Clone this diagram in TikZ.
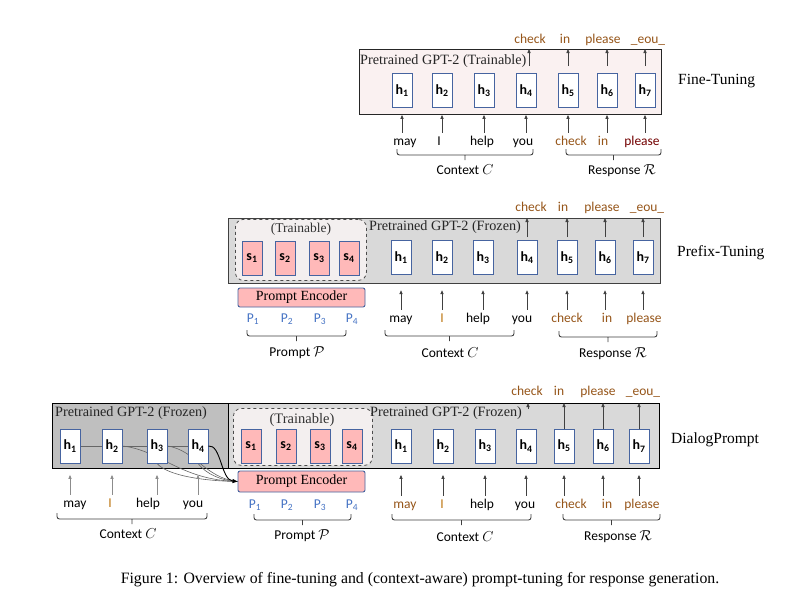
\documentclass[tikz,border=0pt]{standalone}
\usepackage{fontspec}
\setmainfont{Liberation Serif}
\setsansfont{Carlito}
\usepackage{tikz}
\usetikzlibrary{arrows.meta,calc,positioning,backgrounds}
\definecolor{ftpink}{RGB}{250,241,241}
\definecolor{frozgray}{RGB}{217,217,217}
\definecolor{frozdark}{RGB}{191,191,191}
\definecolor{trainbg}{RGB}{243,239,239}
\definecolor{spink}{RGB}{255,185,185}
\definecolor{hblue}{RGB}{70,100,160}
\definecolor{outbrown}{RGB}{150,85,25}
\definecolor{wordorange}{RGB}{190,120,20}
\definecolor{pblue}{RGB}{68,114,196}

\begin{document}
\begin{tikzpicture}[x=1pt, y=-1pt, every node/.style={inner sep=1pt},
    panel/.style={draw=black!85, line width=0.9pt, anchor=north west, inner sep=0pt},
    tbox/.style={draw=black!70, dashed, line width=0.8pt, rounded corners=8pt, fill=trainbg, anchor=north west, inner sep=0pt},
    hbox/.style={draw=hblue, line width=0.9pt, fill=white, minimum width=20pt, minimum height=34pt, inner sep=0pt, font=\sffamily\bfseries\fontsize{14}{14}\selectfont},
    sbox/.style={hbox, fill=spink},
    enc/.style={draw=hblue, fill=spink, rounded corners=2pt, line width=0.9pt, minimum width=127pt, minimum height=19pt, font=\fontsize{14}{14}\selectfont},
    word/.style={font=\sffamily\fontsize{13.5}{14}\selectfont, text height=9pt, text depth=3pt},
    outw/.style={word, text=outbrown},
    pword/.style={word, text=pblue},
    sublbl/.style={font=\sffamily\fontsize{13.5}{14}\selectfont},
    gptlbl/.style={font=\fontsize{14.2}{15}\selectfont, text=black!85, anchor=west},
    sidelbl/.style={font=\fontsize{15.5}{16}\selectfont, anchor=west},
    brc/.style={draw=black!75, line width=0.9pt, rounded corners=2.5pt,
        to path={(\tikztostart) |- ($(\tikztostart)!0.5!(\tikztotarget)+(0,6)$) -| (\tikztotarget)
                 ($(\tikztostart)!0.5!(\tikztotarget)+(0,6)$) -- ++(0,5)}},
    arr/.style={-{Triangle[length=4pt,width=3.2pt]}, draw=black!75, line width=0.8pt},
    inarr/.style={arr, shorten <=2pt},
    ctx/.style={draw=black!60, line width=0.6pt},
    ctxk/.style={draw=black, line width=0.9pt, -{Triangle[length=5pt,width=4pt]}}]

    % Panels (kept behind everything else)
    \begin{scope}[on background layer]
        \path[use as bounding box, fill=white] (0,0) rectangle (792,614);
        \node[panel, fill=ftpink, minimum width=302pt, minimum height=65pt] (ft) at (359,49) {};
        \node[panel, draw=black!75, line width=1.2pt, fill=frozgray, minimum width=432pt, minimum height=65pt] (pt) at (228,218) {};
        \node[tbox, minimum width=131pt, minimum height=61pt] (ptrain) at (235,219) {};
        \node[panel, draw=black, fill=frozdark, minimum width=176pt, minimum height=65pt] (dpl) at (52,403) {};
        \node[panel, draw=black, fill=frozgray, minimum width=431pt, minimum height=65pt] (dpr) at (228,403) {};
        \node[tbox, minimum width=139pt, minimum height=57pt] (dtrain) at (233,408) {};
    \end{scope}

    % Fine-Tuning
    \node[gptlbl] (ftlbl) at (359,61) {Pretrained GPT-2 (Trainable)};
    \node[hbox] (fh1) at (402,90.5) {h\textsubscript{1}};
    \node[hbox] (fh2) at (442,90.5) {h\textsubscript{2}};
    \node[hbox] (fh3) at (484,90.5) {h\textsubscript{3}};
    \node[hbox] (fh4) at (526,90.5) {h\textsubscript{4}};
    \node[hbox] (fh5) at (568,90.5) {h\textsubscript{5}};
    \node[hbox] (fh6) at (607,90.5) {h\textsubscript{6}};
    \node[hbox] (fh7) at (645,90.5) {h\textsubscript{7}};

    % Out
    \node[outw] (fo1) at (530,40) {check};
    \node[outw] (fo2) at (565,40) {in};
    \node[outw] (fo3) at (603,40) {please};
    \node[outw] (fo4) at (648,40) {\_eou\_};
    \draw[arr] ($(fh4.north)+(3,-7)$) -- ($(fh4.north |- ft.north)+(3,0)$);
    \draw[arr] ([yshift=7pt]fh5.north) -- (fh5.north |- ft.north);
    \draw[arr] ([yshift=7pt]fh6.north) -- (fh6.north |- ft.north);
    \draw[arr] ([yshift=7pt]fh7.north) -- (fh7.north |- ft.north);

    % In
    \node[word] (fw1) at (405,142) {may};
    \node[word] (fw2) at (439,142) {I};
    \node[word] (fw3) at (482,142) {help};
    \node[word] (fw4) at (523,142) {you};
    \node[outw] (fw5) at (571,142) {check};
    \node[outw] (fw6) at (603,142) {in};
    \node[word, text=red!45!black] (fw7) at (642,142) {please};
    \draw[inarr] (fh1 |- fw1.north) -- (fh1 |- ft.south);
    \draw[inarr] (fh2 |- fw2.north) -- (fh2 |- ft.south);
    \draw[inarr] (fh3 |- fw3.north) -- (fh3 |- ft.south);
    \draw[inarr] (fh4 |- fw4.north) -- (fh4 |- ft.south);
    \draw[inarr] (fh5 |- fw5.north) -- (fh5 |- ft.south);
    \draw[inarr] (fh6 |- fw6.north) -- (fh6 |- ft.south);
    \draw[inarr] (fh7 |- fw7.north) -- (fh7 |- ft.south);

    \draw[brc] (397,149) to (533,149);
    \node[sublbl] (ftctx) at (465,170) {Context $C$};
    \draw[brc] (566,149) to (661,149);
    \node[sublbl] (ftres) at (622,171) {Response $\mathcal{R}$};
    \node[sidelbl] (ftname) at (677,81) {Fine-Tuning};

    % Prefix-Tuning
    \node[font=\fontsize{13.5}{14}\selectfont, text=black!80] (ptt) at (301,229) {(Trainable)};
    \node[sbox] (ps1) at (252,258) {s\textsubscript{1}};
    \node[sbox] (ps2) at (285,258) {s\textsubscript{2}};
    \node[sbox] (ps3) at (319,258) {s\textsubscript{3}};
    \node[sbox] (ps4) at (349,258) {s\textsubscript{4}};
    \node[gptlbl] (ptlbl) at (368,227) {Pretrained GPT-2 (Frozen)};
    \node[hbox] (ph1) at (401,257.5) {h\textsubscript{1}};
    \node[hbox] (ph2) at (442,257.5) {h\textsubscript{2}};
    \node[hbox] (ph3) at (483,257.5) {h\textsubscript{3}};
    \node[hbox] (ph4) at (527,257.5) {h\textsubscript{4}};
    \node[hbox] (ph5) at (567,257.5) {h\textsubscript{5}};
    \node[hbox] (ph6) at (605,257.5) {h\textsubscript{6}};
    \node[hbox] (ph7) at (643,257.5) {h\textsubscript{7}};

    % Out
    \node[outw] (po1) at (531,208) {check};
    \node[outw] (po2) at (563,208) {in};
    \node[outw] (po3) at (602,208) {please};
    \node[outw] (po4) at (647,208) {\_eou\_};
    \draw[arr] ([yshift=3pt]ph4.north) -- (ph4.north |- pt.north);
    \draw[arr] ([yshift=3pt]ph5.north) -- (ph5.north |- pt.north);
    \draw[arr] ([yshift=3pt]ph6.north) -- (ph6.north |- pt.north);
    \draw[arr] ([yshift=3pt]ph7.north) -- (ph7.north |- pt.north);

    % Prompt Encoder
    \node[enc] (pe1) at (301.5,297.5) {Prompt Encoder};
    \node[pword] (pp1) at (253,319) {P\textsubscript{1}};
    \node[pword] (pp2) at (287,319) {P\textsubscript{2}};
    \node[pword] (pp3) at (320,319) {P\textsubscript{3}};
    \node[pword] (pp4) at (352,319) {P\textsubscript{4}};

    % In
    \node[word] (pw1) at (401,319) {may};
    \node[word, text=wordorange] (pw2) at (442,319) {I};
    \node[word] (pw3) at (478,319) {help};
    \node[word] (pw4) at (522,319) {you};
    \node[outw] (pw5) at (567,319) {check};
    \node[outw] (pw6) at (607,319) {in};
    \node[outw] (pw7) at (644,319) {please};
    \draw[inarr, shorten >=6pt] (ph1 |- pw1.north) -- (ph1 |- pt.south);
    \draw[inarr, shorten >=6pt] (ph2 |- pw2.north) -- (ph2 |- pt.south);
    \draw[inarr, shorten >=6pt] (ph3 |- pw3.north) -- (ph3 |- pt.south);
    \draw[inarr, shorten >=6pt] (ph4 |- pw4.north) -- (ph4 |- pt.south);
    \draw[inarr, shorten >=6pt] (ph5 |- pw5.north) -- (ph5 |- pt.south);
    \draw[inarr, shorten >=6pt] (ph6 |- pw6.north) -- (ph6 |- pt.south);
    \draw[inarr, shorten >=6pt] (ph7 |- pw7.north) -- (ph7 |- pt.south);

    \draw[brc] (247,330) to (346,330);
    \node[sublbl] (ptprm) at (297,353) {Prompt $\mathcal{P}$};
    \draw[brc] (385,330) to (514,330);
    \node[sublbl] (ptctx) at (450,353) {Context $C$};
    \draw[brc] (559,331) to (657,331);
    \node[sublbl] (ptres) at (613,354) {Response $\mathcal{R}$};
    \node[sidelbl] (ptname) at (676,253) {Prefix-Tuning};

    % DialogPrompt: context side
    \node[gptlbl] (dllbl) at (54,413) {Pretrained GPT-2 (Frozen)};
    \node[hbox] (dl1) at (70,446) {h\textsubscript{1}};
    \node[hbox] (dl2) at (112,446) {h\textsubscript{2}};
    \node[hbox] (dl3) at (157,446) {h\textsubscript{3}};
    \node[hbox] (dl4) at (198,446) {h\textsubscript{4}};
    \node[word] (dv1) at (75,504) {may};
    \node[word, text=wordorange] (dv2) at (110,504) {I};
    \node[word] (dv3) at (148,504) {help};
    \node[word] (dv4) at (193,504) {you};
    \draw[inarr, shorten >=6pt, draw=black!45] (dl1 |- dv1.north) -- (dl1 |- dpl.south);
    \draw[inarr, shorten >=6pt, draw=black!45] (dl2 |- dv2.north) -- (dl2 |- dpl.south);
    \draw[inarr, shorten >=6pt, draw=black!45] (dl3 |- dv3.north) -- (dl3 |- dpl.south);
    \draw[inarr, shorten >=6pt, draw=black!45] (dl4 |- dv4.north) -- (dl4 |- dpl.south);
    \draw[brc] (57,513) to (207,513);
    \node[sublbl] (dlctx) at (128,534) {Context $C$};

    % DialogPrompt: prompt side
    \node[font=\fontsize{14.5}{15}\selectfont, text=black!80] (dtt) at (302,420) {(Trainable)};
    \node[sbox] (ds1) at (251,446) {s\textsubscript{1}};
    \node[sbox] (ds2) at (286,446) {s\textsubscript{2}};
    \node[sbox] (ds3) at (320,446) {s\textsubscript{3}};
    \node[sbox] (ds4) at (352,446) {s\textsubscript{4}};
    \node[enc, minimum height=21pt] (pe2) at (301.5,481.5) {Prompt Encoder};
    \node[pword] (dp1) at (255,505) {P\textsubscript{1}};
    \node[pword] (dp2) at (287,505) {P\textsubscript{2}};
    \node[pword] (dp3) at (320,505) {P\textsubscript{3}};
    \node[pword] (dp4) at (352,505) {P\textsubscript{4}};
    \draw[brc] (254,514) to (351,514);
    \node[sublbl] (dprm) at (302,536) {Prompt $\mathcal{P}$};

    % Context into the encoder
    \begin{scope}[on background layer]
        \draw[ctx] (dl1.east) -- (dl2.west);
        \draw[ctx] (dl2.east) -- (dl3.west);
        \draw[ctx] (dl3.east) -- (dl4.west);
        \draw[ctx] (dl2.east) .. controls (160,450) and (180,480) .. (pe2.west);
        \draw[ctx] (dl3.south) .. controls (168,476) and (205,481) .. (pe2.west);
        \draw[ctx] (dl3.east) .. controls (195,450) and (205,478) .. (pe2.west);
        \draw[ctx] (dl4.south) .. controls (206,474) and (222,481) .. (pe2.west);
    \end{scope}
    \draw[ctxk] (dl4.east) .. controls (221,444) and (221,480) .. (pe2.west);

    % DialogPrompt: response side
    \node[gptlbl] (drlbl) at (369,413) {Pretrained GPT-2 (Frozen)};
    \node[hbox] (dh1) at (401,446) {h\textsubscript{1}};
    \node[hbox] (dh2) at (443,446) {h\textsubscript{2}};
    \node[hbox] (dh3) at (485,446) {h\textsubscript{3}};
    \node[hbox] (dh4) at (526,446) {h\textsubscript{4}};
    \node[hbox] (dh5) at (564,446) {h\textsubscript{5}};
    \node[hbox] (dh6) at (603,446) {h\textsubscript{6}};
    \node[hbox] (dh7) at (639,446) {h\textsubscript{7}};

    % Out
    \node[outw] (do1) at (527,392) {check};
    \node[outw] (do2) at (559,392) {in};
    \node[outw] (do3) at (598,392) {please};
    \node[outw] (do4) at (643,392) {\_eou\_};
    \draw[arr] ($(dh4.north |- dpr.north)+(2,6)$) -- ($(dh4.north |- dpr.north)+(2,0)$);
    \draw[arr] (dh5.north) -- (dh5.north |- dpr.north);
    \draw[arr] (dh6.north) -- (dh6.north |- dpr.north);
    \draw[arr] (dh7.north) -- (dh7.north |- dpr.north);

    % In
    \node[word, text=outbrown] (dw1) at (405,505) {may};
    \node[word, text=wordorange] (dw2) at (442,505) {I};
    \node[word] (dw3) at (482,505) {help};
    \node[word] (dw4) at (525,505) {you};
    \node[outw] (dw5) at (571,505) {check};
    \node[outw] (dw6) at (607,505) {in};
    \node[outw] (dw7) at (642,505) {please};
    \draw[inarr, shorten >=6pt] (dh1 |- dw1.north) -- (dh1 |- dpr.south);
    \draw[inarr, shorten >=6pt] (dh2 |- dw2.north) -- (dh2 |- dpr.south);
    \draw[inarr, shorten >=6pt] (dh3 |- dw3.north) -- (dh3 |- dpr.south);
    \draw[inarr, shorten >=6pt] (dh4 |- dw4.north) -- (dh4 |- dpr.south);
    \draw[inarr, shorten >=6pt] (dh5 |- dw5.north) -- (dh5 |- dpr.south);
    \draw[inarr, shorten >=6pt] (dh6 |- dw6.north) -- (dh6 |- dpr.south);
    \draw[inarr, shorten >=6pt] (dh7 |- dw7.north) -- (dh7 |- dpr.south);

    \draw[brc] (392,514) to (531,514);
    \node[sublbl] (drctx) at (465,537) {Context $C$};
    \draw[brc] (563,514) to (660,514);
    \node[sublbl] (drres) at (618,537) {Response $\mathcal{R}$};
    \node[sidelbl] (dname) at (670,440) {DialogPrompt};

    % Caption
    \node[font=\fontsize{15.8}{18}\selectfont] (cap) at (420,580) {Figure 1: Overview of fine-tuning and (context-aware) prompt-tuning for response generation.};
\end{tikzpicture}
\end{document}
